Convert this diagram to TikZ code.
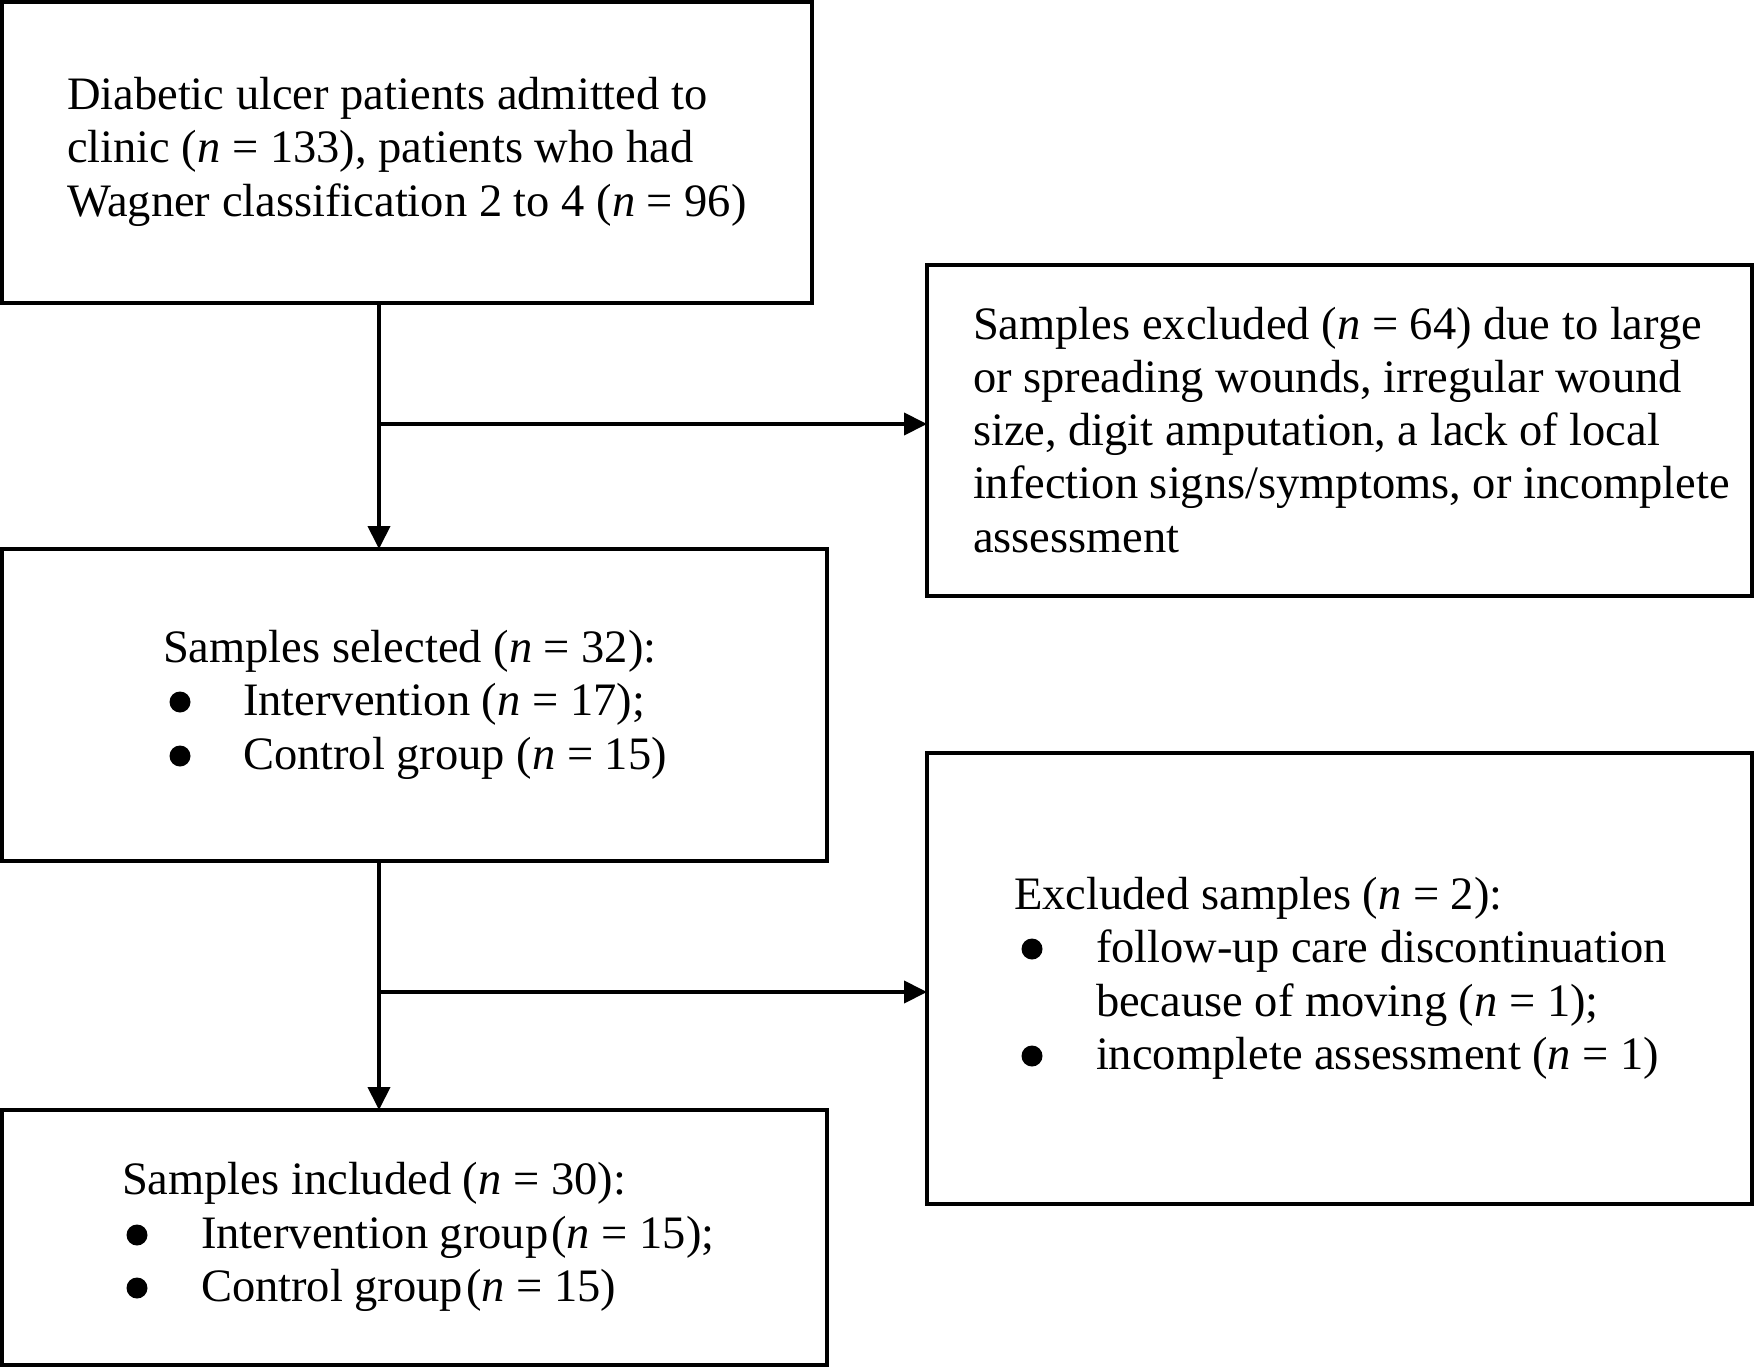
\documentclass[tikz,border=0pt]{standalone}
\usepackage{fontspec}
\setmainfont{Liberation Serif}
\usetikzlibrary{arrows.meta}
\tikzset{
  box/.style={draw, line width=4.2pt, inner sep=0pt, outer sep=0pt, rectangle},
  txt/.style={anchor=base west, inner sep=0pt, outer sep=0pt, font=\fontsize{46.5}{53.7}\selectfont},
  arr/.style={line width=4pt, -{Triangle[length=23pt,width=22pt]}},
  dot/.style={fill=black}
}
\newcommand{\nn}{\textit{n}}
\begin{document}
\begin{tikzpicture}[x=1pt,y=-1pt]
\useasboundingbox (0,0) rectangle (1754,1367);
\fill[white] (0,0) rectangle (1754,1367);
% boxes
\node[box, minimum width=810pt, minimum height=301pt] (b1) at (407,152.5) {};
\node[box, minimum width=825pt, minimum height=331pt] (b2) at (1339.5,430.5) {};
\node[box, minimum width=825pt, minimum height=312pt] (b3) at (414.5,705) {};
\node[box, minimum width=825pt, minimum height=451pt] (b4) at (1339.5,978.5) {};
\node[box, minimum width=825pt, minimum height=255pt] (b5) at (414.5,1237.5) {};
% texts box 1
\node[txt] (t1a) at (67,110) {Diabetic ulcer patients admitted to};
\node[txt] (t1b) at (67,163) {clinic (\nn{} = 133), patients who had};
\node[txt] (t1c) at (67,217) {Wagner classification 2 to 4 (\nn{} = 96)};
% box 2
\node[txt] (t2a) at (973,339) {Samples excluded (\nn{} = 64) due to large};
\node[txt] (t2b) at (973,392) {or spreading wounds, irregular wound};
\node[txt] (t2c) at (973,445) {size, digit amputation, a lack of local};
\node[txt] (t2d) at (973,498) {infection signs/symptoms, or incomplete};
\node[txt] (t2e) at (973,552) {assessment};
% box 3
\node[txt] (t3a) at (163,662) {Samples selected (\nn{} = 32):};
\node[txt] (t3b) at (243,715) {Intervention (\nn{} = 17);};
\node[txt] (t3c) at (243,769) {Control group (\nn{} = 15)};
\fill[dot] (180,702) circle (10.5);
\fill[dot] (180,756) circle (10.5);
% box 4
\node[txt] (t4a) at (1014,909) {Excluded samples (\nn{} = 2):};
\node[txt] (t4b) at (1096,962) {follow-up care discontinuation};
\node[txt] (t4c) at (1096,1016) {because of moving (\nn{} = 1);};
\node[txt] (t4d) at (1096,1069) {incomplete assessment (\nn{} = 1)};
\fill[dot] (1032,949) circle (10.5);
\fill[dot] (1032,1056) circle (10.5);
% box 5
\node[txt] (t5a) at (122,1194) {Samples included (\nn{} = 30):};
\node[txt] (t5b) at (201,1248) {Intervention group\kern3pt(\nn{} = 15);};
\node[txt] (t5c) at (201,1301) {Control group\kern3pt(\nn{} = 15)};
\fill[dot] (137,1235) circle (10.5);
\fill[dot] (137,1288) circle (10.5);
% connectors
\coordinate (j1) at (379,424);
\coordinate (j2) at (379,992);
\draw[arr] (b1.south -| j1) -- (b3.north -| j1);
\draw[arr] (j1) -- (j1 -| b2.west);
\draw[arr] (b3.south -| j2) -- (b5.north -| j2);
\draw[arr] (j2) -- (j2 -| b4.west);
\end{tikzpicture}
\end{document}
